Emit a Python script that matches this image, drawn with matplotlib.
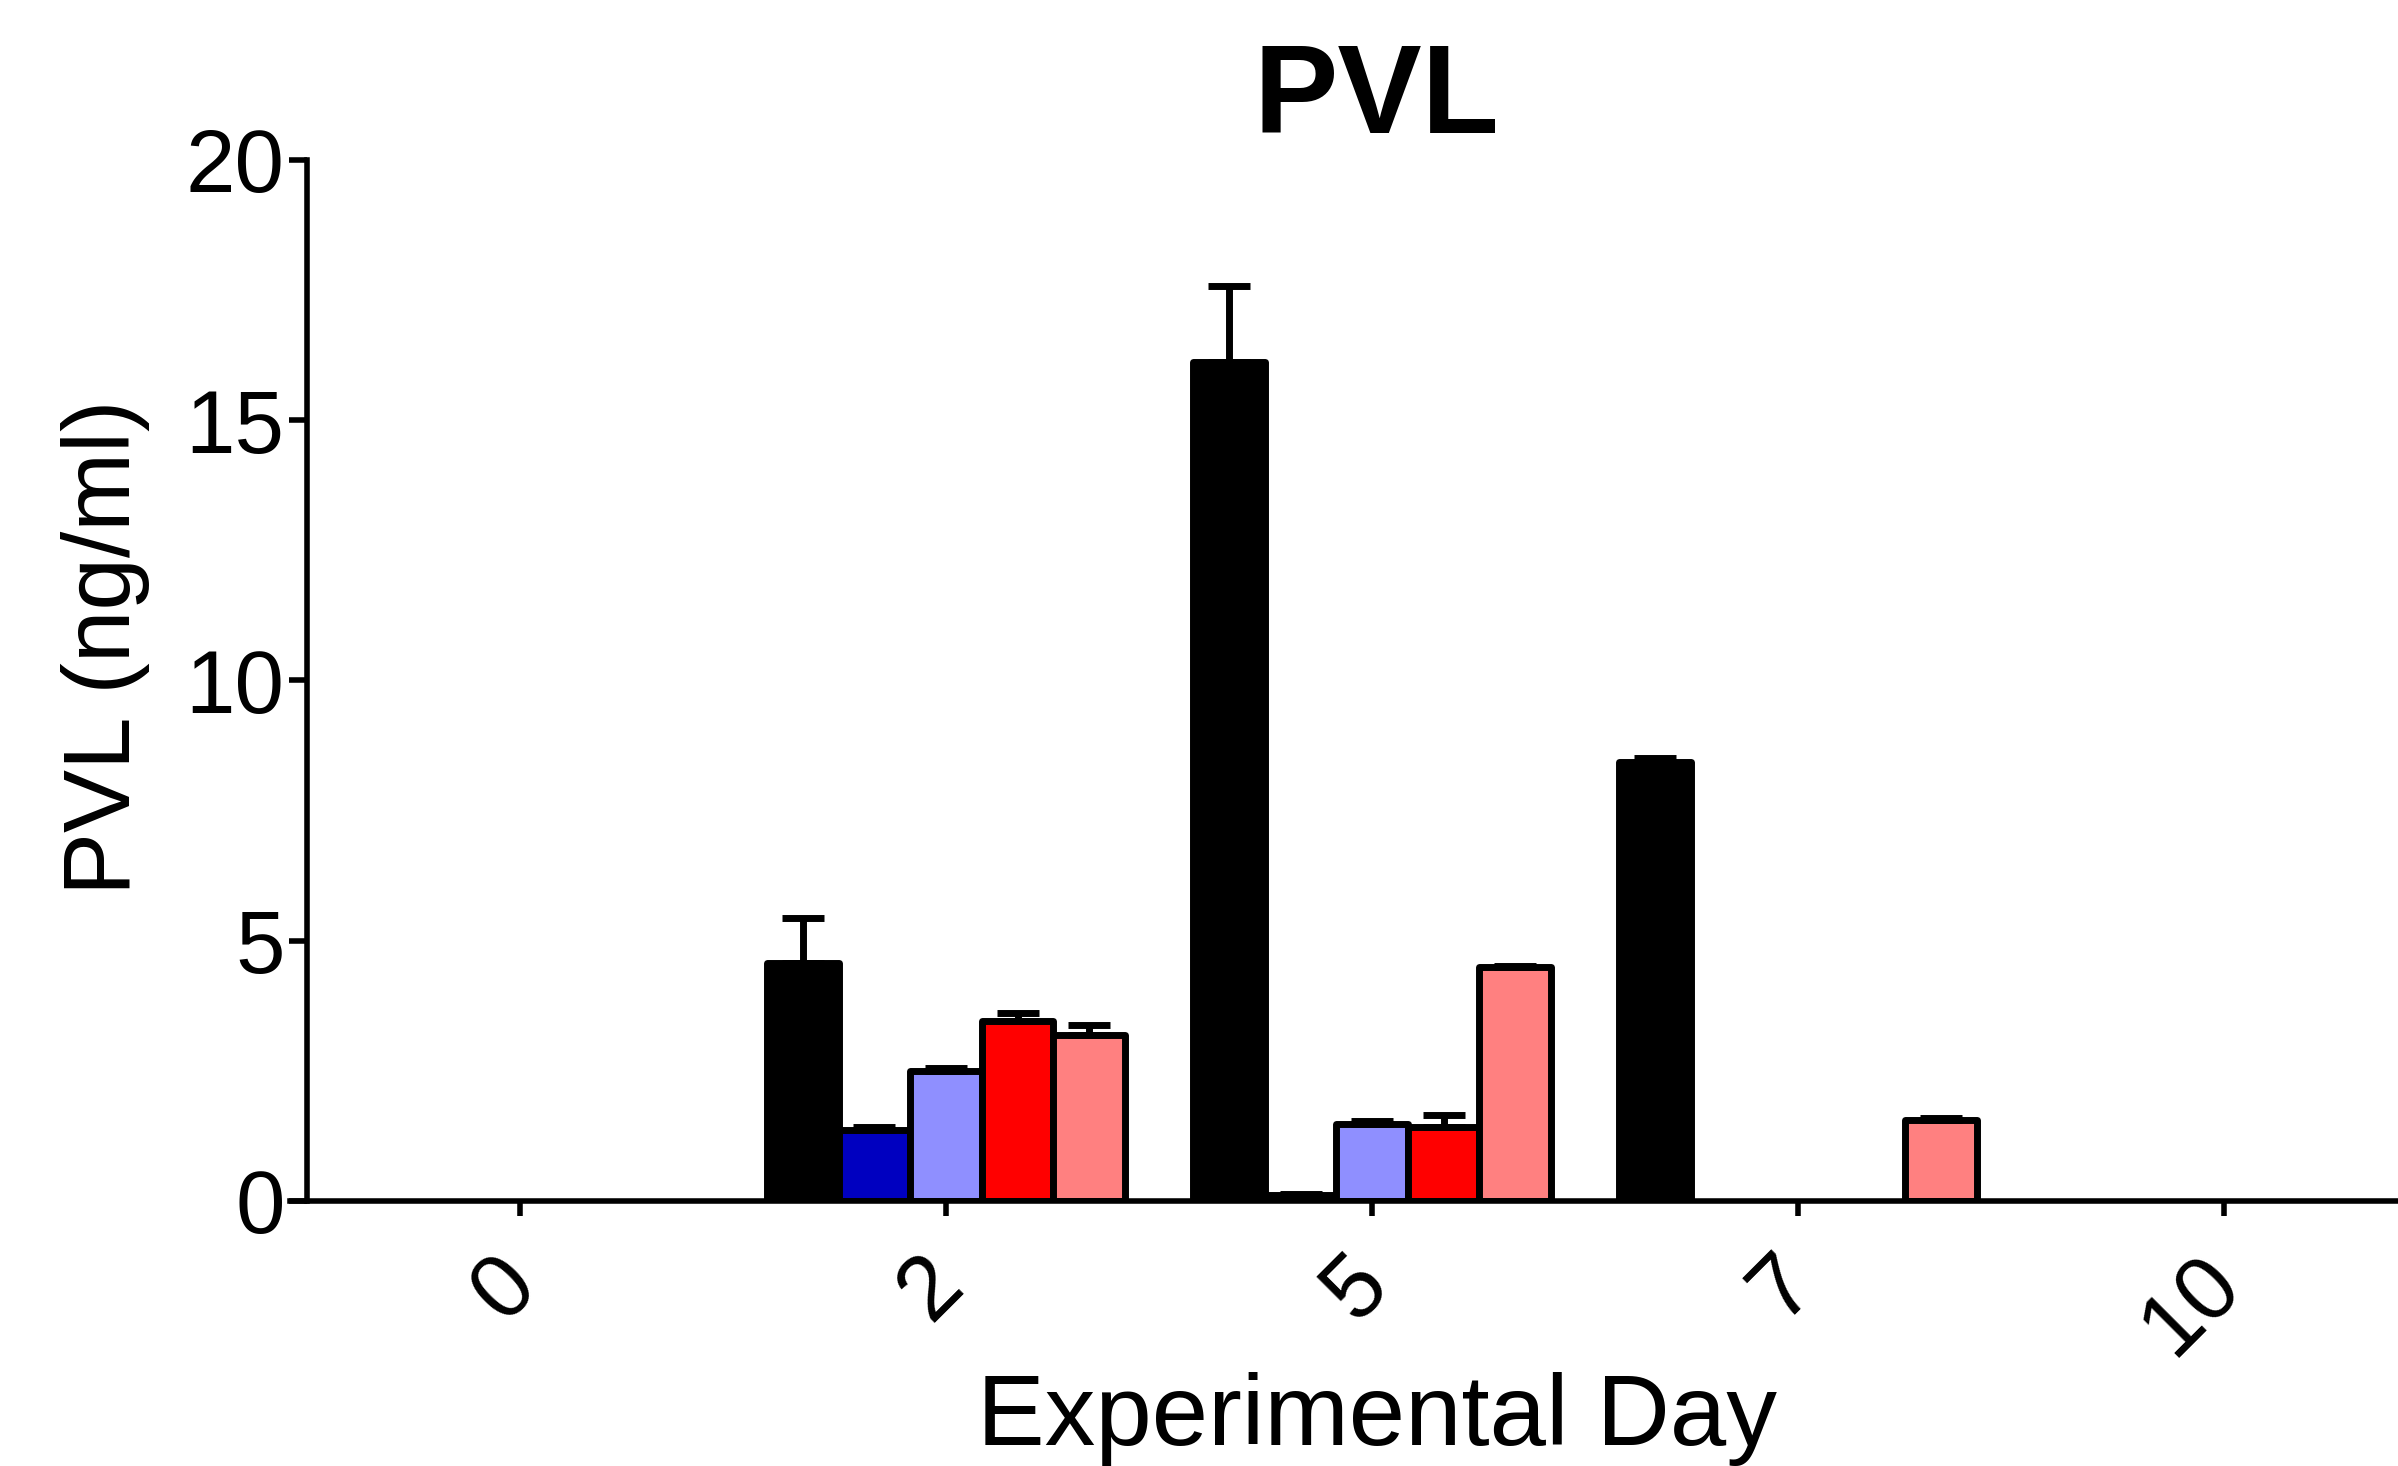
import numpy as np
import matplotlib.pyplot as plt
import matplotlib.transforms as mtransforms

plt.rcParams["font.family"] = ["Liberation Sans", "DejaVu Sans"]

# data (NaN = no bar drawn)
days = ["0", "2", "5", "7", "10"]
nan = np.nan
black_mean = [nan, 4.58, 16.12, 8.43, nan]
black_err = [nan, 0.86, 1.45, 0.08, nan]
darkblue_mean = [nan, 1.37, 0.12, nan, nan]
darkblue_err = [nan, 0.06, 0.02, nan, nan]
lightblue_mean = [nan, 2.49, 1.48, nan, nan]
lightblue_err = [nan, 0.07, 0.05, nan, nan]
red_mean = [nan, 3.45, 1.43, nan, nan]
red_err = [nan, 0.17, 0.22, nan, nan]
pink_mean = [nan, 3.18, 4.49, 1.55, nan]
pink_err = [nan, 0.20, 0.03, 0.05, nan]

series = [
    (black_mean, black_err, "#000000"),
    (darkblue_mean, darkblue_err, "#0000C0"),
    (lightblue_mean, lightblue_err, "#8F8FFF"),
    (red_mean, red_err, "#FF0000"),
    (pink_mean, pink_err, "#FF8080"),
]

fig = plt.figure(figsize=(23.98, 14.66), dpi=100)
ax = fig.add_axes([0.1209, 0.1808, 0.8791, 0.7101])

x = np.arange(len(days))
w = 0.168
lw = 5

for i, (m, e, c) in enumerate(series):
    pos = x + (i - 2) * w
    m = np.array(m, dtype=float)
    e = np.array(e, dtype=float)
    ax.bar(pos, m, width=w, color=c, edgecolor="black", linewidth=lw,
           joinstyle="round", zorder=2)
    ax.errorbar(pos, m, yerr=[np.zeros_like(e), e], fmt="none",
                ecolor="black", elinewidth=lw, capsize=15, capthick=lw,
                zorder=3)

ax.set_xlim(-0.54, 4.408)
ax.set_ylim(0, 20)
ax.set_yticks([0, 5, 10, 15, 20])
ax.set_xticks(x)
ax.set_xticklabels([])

# rotated day labels, placed by hand so they sit like the original
trans = ax.get_xaxis_transform() + mtransforms.ScaledTranslation(
    0.33, -0.40, fig.dpi_scale_trans)
for xi, d in zip(x, days):
    ax.text(xi, 0, d, transform=trans, rotation=45, ha="right", va="top",
            fontsize=65, clip_on=False)

for s in ["top", "right"]:
    ax.spines[s].set_visible(False)
ax.spines["left"].set_position(("data", -0.5))
ax.spines["left"].set_linewidth(4)
ax.spines["bottom"].set_linewidth(4)
ax.spines["left"].set_bounds(0, 20)

ax.tick_params(axis="y", length=13, width=4, labelsize=64, pad=3)
ax.tick_params(axis="x", length=11, width=4)

fig.text(0.5742, 0.9093, "PVL", fontsize=91, fontweight="bold",
         ha="center", va="baseline")
fig.text(0.5742, 0.0143, "Experimental Day", fontsize=73,
         ha="center", va="baseline")
fig.text(0.0442, 0.5583, "PVL (ng/ml)", fontsize=68, rotation=90,
         ha="center", va="center")

fig.savefig("out.png", dpi=100)
